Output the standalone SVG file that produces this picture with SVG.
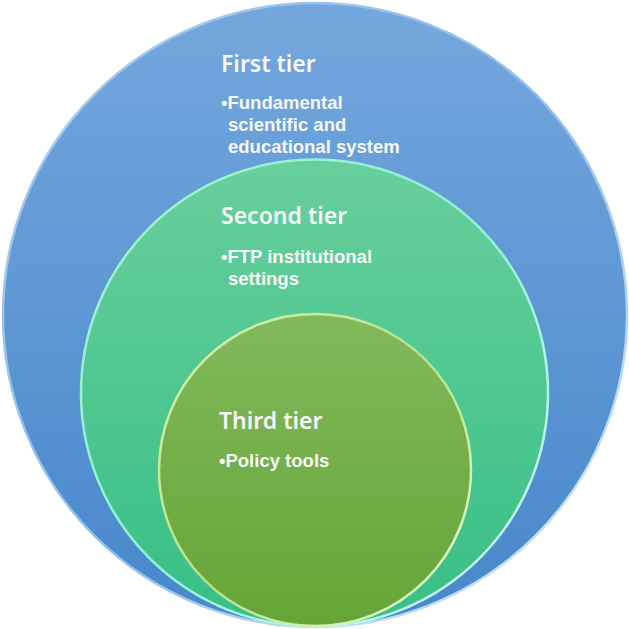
<svg xmlns="http://www.w3.org/2000/svg" width="629" height="629" viewBox="0 0 629 629">
<defs>
<linearGradient id="gBlue" x1="0" y1="0" x2="0" y2="1">
<stop offset="0" stop-color="#74a7dd"/>
<stop offset="1" stop-color="#4787ca"/>
</linearGradient>
<linearGradient id="gTeal" x1="0" y1="0" x2="0" y2="1">
<stop offset="0" stop-color="#68cf9c"/>
<stop offset="1" stop-color="#37bf86"/>
</linearGradient>
<linearGradient id="gGreen" x1="0" y1="0" x2="0" y2="1">
<stop offset="0" stop-color="#82b95c"/>
<stop offset="1" stop-color="#65a536"/>
</linearGradient>
<linearGradient id="rimBlue" x1="0" y1="0" x2="1" y2="1">
<stop offset="0" stop-color="#a9cdf0"/>
<stop offset="0.5" stop-color="#8fbde9"/>
<stop offset="1" stop-color="#d6ecff"/>
</linearGradient>
<linearGradient id="rimTeal" x1="0" y1="0" x2="1" y2="1">
<stop offset="0" stop-color="#a6f0cc"/>
<stop offset="0.5" stop-color="#8ff0d8"/>
<stop offset="1" stop-color="#d8fff4"/>
</linearGradient>
<linearGradient id="rimGreen" x1="0" y1="0" x2="1" y2="1">
<stop offset="0" stop-color="#d8f5b0"/>
<stop offset="0.5" stop-color="#b5e08a"/>
<stop offset="1" stop-color="#f2ffd8"/>
</linearGradient>
<style>
.t{fill:#f7f7f7}
.h{font-family:"Noto Sans","Open Sans","Liberation Sans",sans-serif;font-weight:600;font-size:23px}
.b{font-family:"Liberation Sans",Arial,sans-serif;font-weight:bold;font-size:18.5px}
</style>
</defs>
<g id="tier1">
<circle cx="315" cy="315" r="312" fill="url(#gBlue)" stroke="url(#rimBlue)" stroke-width="2.5"/>
<text class="t h" x="221" y="72">First tier</text>
<text class="t b"><tspan x="221" y="109">•Fundamental</tspan><tspan x="228" y="131">scientific and</tspan><tspan x="228" y="153">educational system</tspan></text>
</g>
<g id="tier2">
<circle cx="314.5" cy="393" r="233.5" fill="url(#gTeal)" stroke="url(#rimTeal)" stroke-width="2.5"/>
<text class="t h" x="221" y="224">Second tier</text>
<text class="t b"><tspan x="221" y="263">•FTP institutional</tspan><tspan x="228" y="285">settings</tspan></text>
</g>
<g id="tier3">
<circle cx="315" cy="470" r="156" fill="url(#gGreen)" stroke="url(#rimGreen)" stroke-width="2.5"/>
<text class="t h" x="219" y="429">Third tier</text>
<text class="t b" x="219" y="467">•Policy tools</text>
</g>
<g id="connectors"/>
</svg>
